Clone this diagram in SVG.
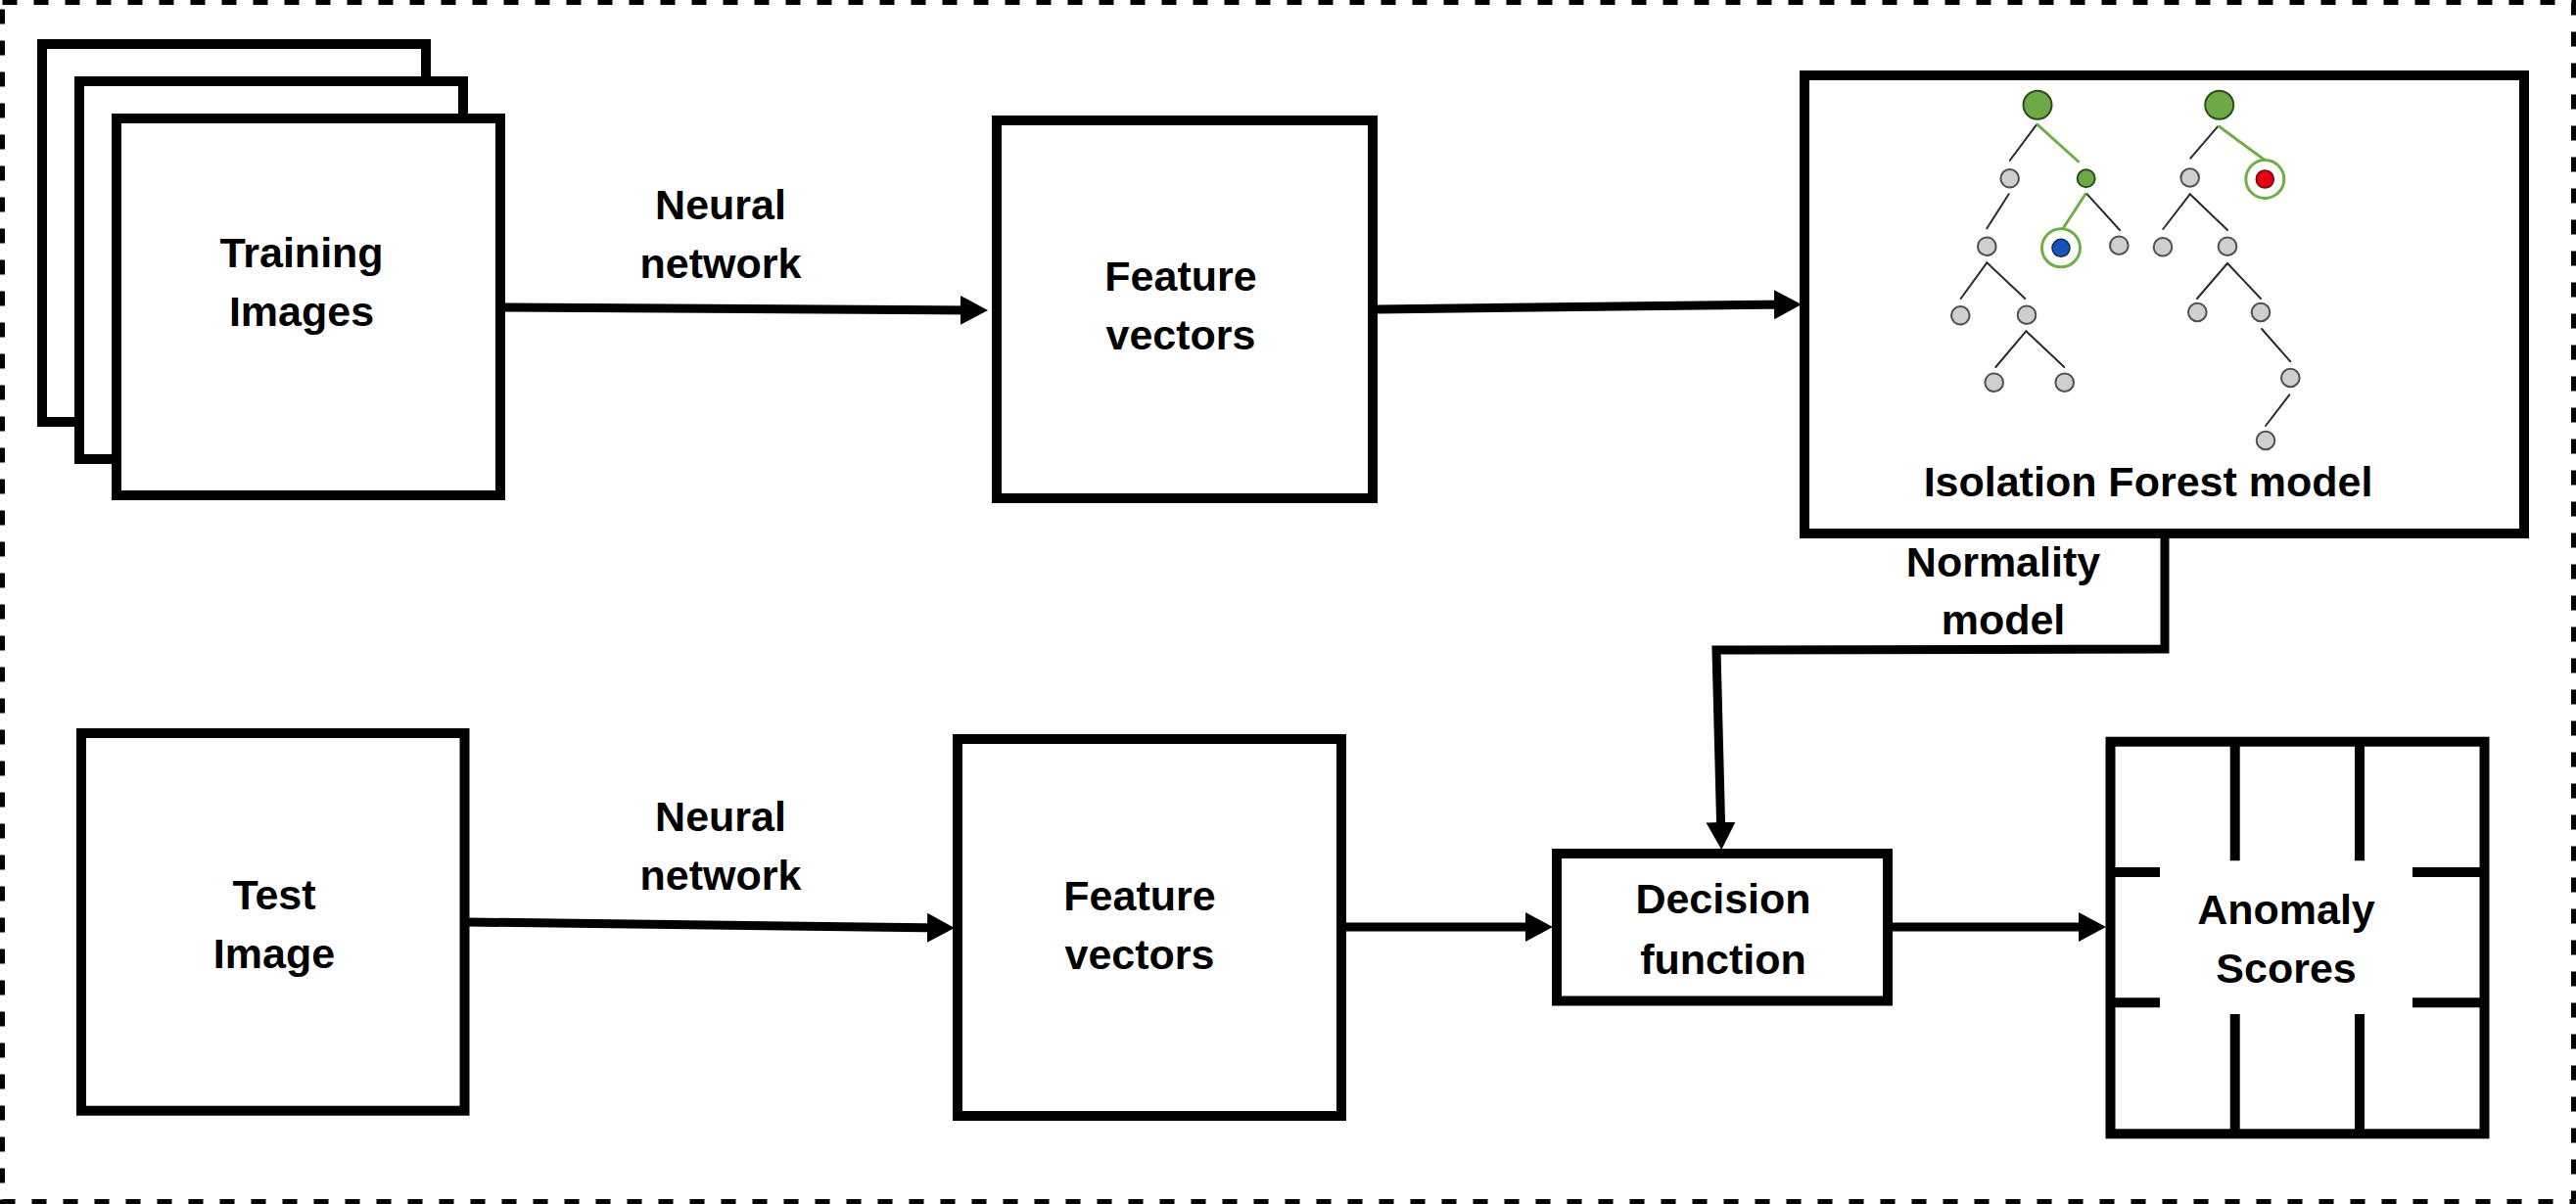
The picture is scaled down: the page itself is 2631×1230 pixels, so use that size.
<svg xmlns="http://www.w3.org/2000/svg" width="2631" height="1230" viewBox="0 0 2631 1230">
<style>
.box{fill:#fff;stroke:#000;stroke-width:10}
.lbl{font-family:"Liberation Sans",Arial,sans-serif;font-weight:bold;font-size:43px;fill:#000;text-anchor:middle}
.conn{fill:none;stroke:#000;stroke-width:9;stroke-linejoin:miter}
.te{stroke:#2b2b2b;stroke-width:2;stroke-linecap:round}
.tg{stroke:#70AD47;stroke-width:3;stroke-linecap:round}
.gn{fill:#CFCFCF;stroke:#505050;stroke-width:2}
.root{fill:#6DAA45;stroke:#2F4A1E;stroke-width:2}
.ring{fill:#fff;stroke:#70AD47;stroke-width:3}
</style>
<defs>
<marker id="ah" markerUnits="userSpaceOnUse" markerWidth="30" markerHeight="32" viewBox="0 0 30 32" refX="18" refY="16" orient="auto">
<path d="M0,1 L28,16 L0,31 z" fill="#000"/>
</marker>
</defs>
<rect x="2.5" y="2.5" width="2626" height="1225" fill="#fff" stroke="#000" stroke-width="5" stroke-dasharray="15 17"/>

<g id="training-images">
<rect class="box" x="43" y="45" width="392" height="386"/>
<rect class="box" x="81" y="83" width="392" height="386"/>
<rect class="box" x="119" y="121" width="392" height="385"/>
<text class="lbl" x="308" y="273">Training</text>
<text class="lbl" x="308" y="333">Images</text>
</g>

<g id="feature-vectors-1">
<rect class="box" x="1018" y="123" width="384" height="386"/>
<text class="lbl" x="1206" y="297">Feature</text>
<text class="lbl" x="1206" y="357">vectors</text>
</g>

<g id="isolation-forest">
<rect class="box" x="1843" y="77" width="735" height="468"/>
<g id="tree-1">
<line class="te" x1="2080" y1="127.3" x2="2052.7" y2="164"/>
<line class="tg" x1="2081" y1="127.3" x2="2122.7" y2="165"/>
<line class="te" x1="2051.7" y1="198.3" x2="2029.3" y2="233.3"/>
<line class="tg" x1="2130" y1="198.3" x2="2106" y2="235"/>
<line class="te" x1="2131.7" y1="198.3" x2="2165" y2="235"/>
<line class="te" x1="2029.3" y1="268.3" x2="2002.7" y2="305"/>
<line class="te" x1="2029.3" y1="268.3" x2="2068.3" y2="305"/>
<line class="te" x1="2069.3" y1="338.3" x2="2038.3" y2="375"/>
<line class="te" x1="2069.3" y1="338.3" x2="2108.3" y2="375"/>
<circle class="root" cx="2081" cy="107.3" r="14.5"/>
<circle class="gn" cx="2052.7" cy="182.3" r="9.3"/>
<circle class="root" cx="2130.7" cy="182.3" r="9"/>
<circle class="gn" cx="2029.3" cy="251.7" r="9.3"/>
<circle class="ring" cx="2105" cy="253.3" r="19.5"/>
<circle cx="2105" cy="253.3" r="9" fill="#1655B8" stroke="#14254F" stroke-width="1.5"/>
<circle class="gn" cx="2164.3" cy="250.7" r="9.3"/>
<circle class="gn" cx="2002.3" cy="322.3" r="9.3"/>
<circle class="gn" cx="2070" cy="321.7" r="9.3"/>
<circle class="gn" cx="2036.7" cy="390.7" r="9.3"/>
<circle class="gn" cx="2108.7" cy="390.7" r="9.3"/>
</g>
<g id="tree-2">
<line class="te" x1="2265" y1="129.3" x2="2237.3" y2="161.7"/>
<line class="tg" x1="2266.7" y1="129.3" x2="2312.7" y2="163.3"/>
<line class="te" x1="2236.7" y1="198.3" x2="2209.3" y2="234"/>
<line class="te" x1="2236.7" y1="198.3" x2="2275" y2="235"/>
<line class="te" x1="2275" y1="269" x2="2244" y2="305"/>
<line class="te" x1="2275" y1="269" x2="2309" y2="305"/>
<line class="te" x1="2310" y1="336" x2="2339.3" y2="369.3"/>
<line class="te" x1="2338.3" y1="403.3" x2="2314" y2="435"/>
<circle class="root" cx="2266.7" cy="107.3" r="14.5"/>
<circle class="gn" cx="2236.7" cy="181.5" r="9.3"/>
<circle class="ring" cx="2313.3" cy="183" r="19.5"/>
<circle cx="2313.3" cy="183" r="9" fill="#E60012" stroke="#6B0000" stroke-width="1.5"/>
<circle class="gn" cx="2209" cy="252.3" r="9.3"/>
<circle class="gn" cx="2275" cy="251.7" r="9.3"/>
<circle class="gn" cx="2244.3" cy="319" r="9.3"/>
<circle class="gn" cx="2309" cy="319" r="9.3"/>
<circle class="gn" cx="2339.3" cy="386" r="9.3"/>
<circle class="gn" cx="2314" cy="450" r="9.3"/>
</g>
<text class="lbl" x="2194" y="507">Isolation Forest model</text>
</g>

<g id="test-image">
<rect class="box" x="83" y="749" width="391.5" height="385.7"/>
<text class="lbl" x="280" y="929">Test</text>
<text class="lbl" x="280" y="989">Image</text>
</g>

<g id="feature-vectors-2">
<rect class="box" x="978" y="755" width="392" height="385"/>
<text class="lbl" x="1164" y="930">Feature</text>
<text class="lbl" x="1164" y="990">vectors</text>
</g>

<g id="decision-function">
<rect class="box" x="1590" y="872" width="338" height="150.5"/>
<text class="lbl" x="1760" y="933">Decision</text>
<text class="lbl" x="1760" y="995">function</text>
</g>

<g id="anomaly-scores">
<rect class="box" x="2155.5" y="757.7" width="382" height="400.6"/>
<g stroke="#000" stroke-width="10" fill="none">
<line x1="2282.7" y1="757.7" x2="2282.7" y2="879.3"/>
<line x1="2410" y1="757.7" x2="2410" y2="879.3"/>
<line x1="2282.7" y1="1036" x2="2282.7" y2="1158.3"/>
<line x1="2410" y1="1036" x2="2410" y2="1158.3"/>
<line x1="2155.5" y1="891" x2="2206" y2="891"/>
<line x1="2155.5" y1="1024.3" x2="2206" y2="1024.3"/>
<line x1="2464" y1="891" x2="2537.5" y2="891"/>
<line x1="2464" y1="1024.3" x2="2537.5" y2="1024.3"/>
</g>
<text class="lbl" x="2335" y="944">Anomaly</text>
<text class="lbl" x="2335" y="1004">Scores</text>
</g>

<g id="connectors">
<path class="conn" d="M516,314 L999,317" marker-end="url(#ah)"/>
<path class="conn" d="M1407,316 L1830,311" marker-end="url(#ah)"/>
<path class="conn" d="M479,942 L965,948" marker-end="url(#ah)"/>
<path class="conn" d="M1375,947 L1576,947" marker-end="url(#ah)"/>
<path class="conn" d="M1933,947 L2141,947" marker-end="url(#ah)"/>
<path class="conn" d="M2211,550 L2211,663 L1753,664 L1758,858" marker-end="url(#ah)"/>
</g>

<g id="labels">
<text class="lbl" x="736" y="224">Neural</text>
<text class="lbl" x="736" y="284">network</text>
<text class="lbl" x="736" y="849">Neural</text>
<text class="lbl" x="736" y="909">network</text>
<text class="lbl" x="2046" y="589">Normality</text>
<text class="lbl" x="2046" y="648">model</text>
</g>
</svg>
